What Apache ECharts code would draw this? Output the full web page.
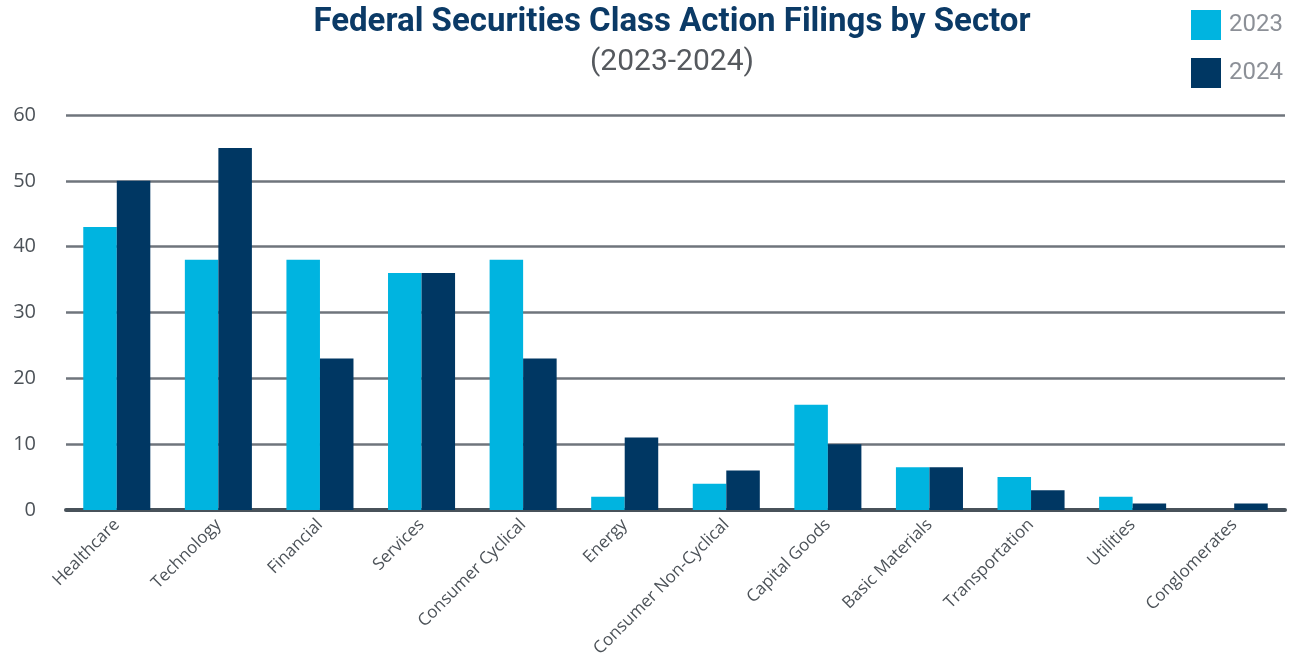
<!DOCTYPE html>
<html lang="en" style="height: 100%">
<head>
<meta charset="utf-8">
<title>Federal Securities Class Action Filings by Sector</title>
</head>
<body style="height: 100%; margin: 0; background: #fff">
<div id="container" style="width: 1296px; height: 664px"></div>
<script type="text/javascript" src="https://cdn.jsdelivr.net/npm/echarts@6/dist/echarts.min.js"></script>
<script type="text/javascript">
// sectors and filings per year
var sectors = ['Healthcare', 'Technology', 'Financial', 'Services', 'Consumer Cyclical', 'Energy',
    'Consumer Non-Cyclical', 'Capital Goods', 'Basic Materials', 'Transportation', 'Utilities', 'Conglomerates'];
var filings2023 = [43, 38, 38, 36, 38, 2, 4, 16, 6.5, 5, 2, 0];
var filings2024 = [50, 55, 23, 36, 23, 11, 6, 10, 6.5, 3, 1, 1];
var yTicks = [0, 10, 20, 30, 40, 50, 60];

var chart = echarts.init(document.getElementById('container'), null, { renderer: 'canvas' });

var option = {
    backgroundColor: '#fff',
    animation: false,
    title: {
        text: 'Federal Securities Class Action Filings by Sector',
        subtext: '(2023-2024)',
        left: 667,
        textAlign: 'center',
        top: 1,
        itemGap: 8,
        textStyle: { fontFamily: 'Roboto', fontWeight: 'bold', fontSize: 33, color: '#0b3a66' },
        subtextStyle: { fontFamily: 'Roboto', fontSize: 30, color: '#55595e' }
    },
    legend: {
        orient: 'vertical',
        left: 1186,
        top: 5,
        itemWidth: 30,
        itemHeight: 30,
        itemGap: 18,
        icon: 'rect',
        textStyle: { fontFamily: 'Roboto', fontSize: 24, color: '#8c9097', padding: [0, 0, 0, 3] },
        data: ['2023', '2024']
    },
    grid: { left: 66, right: 11, top: 115, bottom: 154, containLabel: false },
    xAxis: {
        type: 'category',
        data: sectors,
        axisTick: { show: false },
        axisLine: { lineStyle: { color: '#48525a', width: 4 } },
        axisLabel: {
            interval: 0,
            rotate: 45,
            margin: 12,
            fontFamily: '"Open Sans", sans-serif',
            fontSize: 17,
            color: '#4c5258'
        }
    },
    yAxis: {
        type: 'value',
        min: 0,
        max: 60,
        interval: 10,
        axisLine: { show: false },
        axisTick: { show: false },
        splitLine: { lineStyle: { color: '#6f757c', width: 2.5 } },
        axisLabel: {
            margin: 30,
            fontFamily: '"Open Sans", sans-serif',
            fontSize: 20,
            color: '#4c5258',
            formatter: function (v) { return yTicks.indexOf(v) >= 0 ? String(v) : ''; }
        }
    },
    series: [
        {
            name: '2023',
            type: 'bar',
            data: filings2023,
            barGap: '0%',
            barCategoryGap: '34%',
            itemStyle: { color: '#00b4e0' }
        },
        {
            name: '2024',
            type: 'bar',
            data: filings2024,
            itemStyle: { color: '#003763' }
        }
    ]
};

chart.setOption(option);
window.addEventListener('resize', chart.resize);
</script>
</body>
</html>
